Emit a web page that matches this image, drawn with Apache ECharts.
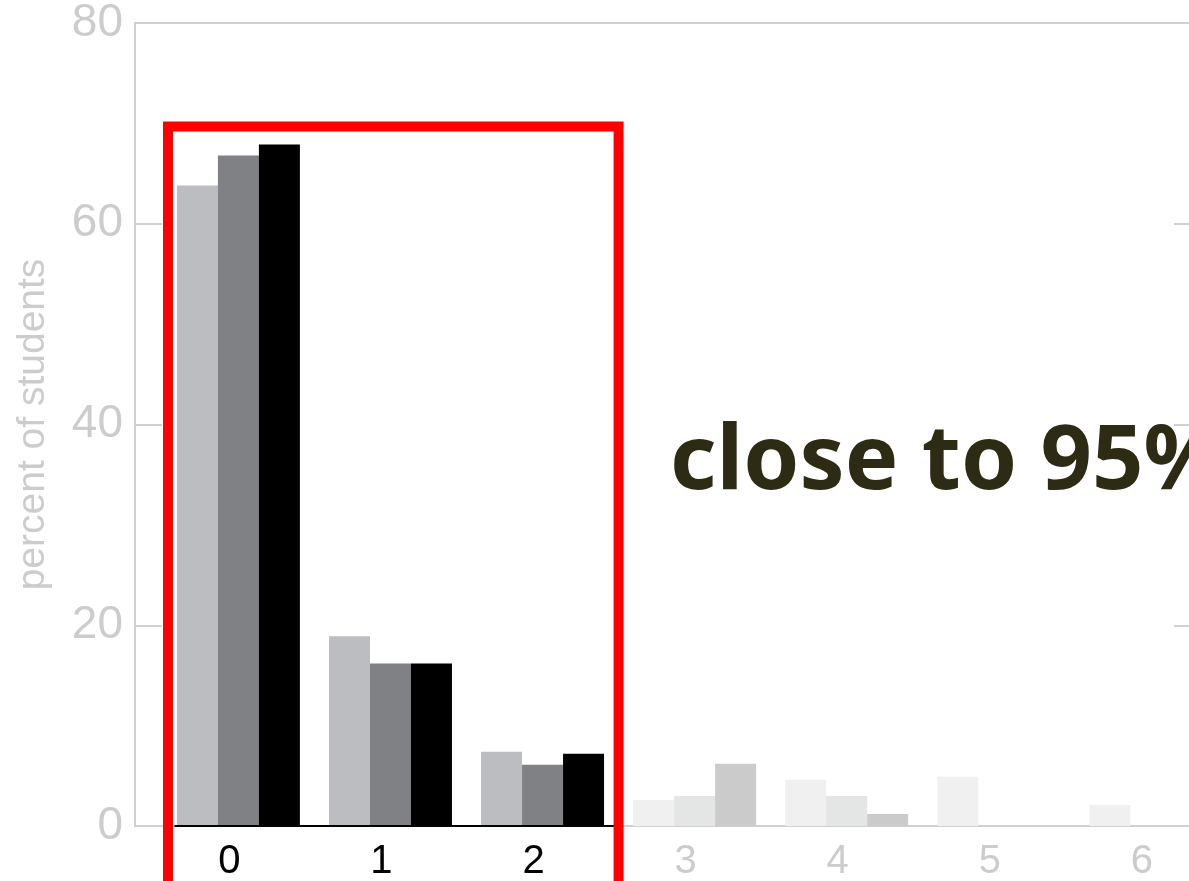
<!DOCTYPE html>
<html>
<head>
<meta charset="utf-8">
<title>percent of students</title>
<script src="https://cdn.jsdelivr.net/npm/echarts@6/dist/echarts.min.js"></script>
<style>
  html, body { margin: 0; padding: 0; background: #fff; }
  #chart { width: 1189px; height: 881px; }
</style>
</head>
<body>
<div id="chart"></div>
<script>
// categories on the x axis
var categories = [0, 1, 2, 3, 4, 5, 6];
// three groups of students, percent for each category
var groupA = [63.8, 18.9, 7.4, 2.6, 4.6, 4.9, 2.1];
var groupB = [66.8, 16.2, 6.1, 3.0, 3.0, 0, 0];
var groupC = [67.9, 16.2, 7.2, 6.2, 1.2, 0, 0];
var yTicks = [0, 20, 40, 60, 80];
var highlightUpTo = 2; // categories 0..2 are the highlighted ones

var strong = ['#bcbdc1', '#808185', '#000000'];
var faded = ['#f0f0f0', '#e4e5e5', '#cbcbcb'];

var myChart = echarts.init(document.getElementById('chart'));

function makeSeries(values, idx) {
	return {
		type: 'bar',
		barWidth: 41,
		barGap: '0%',
		data: values.map(function (v, i) { return [categories[i], v]; }),
		itemStyle: {
			color: function (p) {
				return categories[p.dataIndex] <= highlightUpTo ? strong[idx] : faded[idx];
			}
		},
		emphasis: { disabled: true },
		z: 2
	};
}

var series = [makeSeries(groupA, 0), makeSeries(groupB, 1), makeSeries(groupC, 2)];
// black baseline under the highlighted categories (middle series has no bar offset)
series[1].markLine = {
	silent: true,
	symbol: ['none', 'none'],
	label: { show: false },
	lineStyle: { color: '#000', width: 2, type: 'solid' },
	data: [[{ coord: [-0.42, 0] }, { coord: [2.5, 0] }]]
};

var axisGray = '#d0d0d0';
var labelGray = '#cccccc';

var option = {
	animation: false,
	backgroundColor: '#fff',
	grid: {
		left: 135,
		width: 1066,
		top: 23,
		bottom: 55,
		outerBoundsMode: 'none',
		containLabel: false,
		show: true,
		borderColor: axisGray,
		borderWidth: 2
	},
	xAxis: {
		type: 'value',
		min: -0.68,
		max: 6.33,
		splitLine: { show: false },
		axisLine: { show: true, onZero: false, lineStyle: { color: axisGray, width: 2 } },
		axisTick: { show: false },
		axisLabel: {
			customValues: categories,
			fontFamily: 'Liberation Sans',
			fontSize: 40,
			margin: 16,
			padding: [0, 18, 0, 0],
			color: function (v) {
				return v <= highlightUpTo ? '#000000' : labelGray;
			}
		}
	},
	yAxis: [
		{
			type: 'value',
			min: 0,
			max: 80,
			interval: 20,
			name: 'percent of students',
			nameLocation: 'middle',
			nameGap: 82,
			nameTextStyle: { color: labelGray, fontFamily: 'Liberation Sans', fontSize: 39 },
			splitLine: { show: false },
			axisLine: { show: true, onZero: false, lineStyle: { color: axisGray, width: 2 } },
			axisTick: { show: true, inside: true, length: 27, lineStyle: { color: axisGray, width: 2 } },
			axisLabel: { color: labelGray, fontFamily: 'Liberation Sans', fontSize: 46, margin: 12 }
		},
		{
			type: 'value',
			min: 0,
			max: 80,
			interval: 20,
			position: 'right',
			splitLine: { show: false },
			axisLine: { show: true, onZero: false, lineStyle: { color: axisGray, width: 2 } },
			axisTick: { show: true, inside: true, length: 27, lineStyle: { color: axisGray, width: 2 } },
			axisLabel: { show: false }
		}
	],
	series: series
};

myChart.setOption(option);

// red box round the first three categories and the note next to it
var boxTL = myChart.convertToPixel({ gridIndex: 0 }, [-0.463, 69.7]);
var boxBR = myChart.convertToPixel({ gridIndex: 0 }, [2.5, -8]);
myChart.setOption({
	graphic: [
		{
			type: 'rect',
			silent: true,
			z: 100,
			shape: { x: boxTL[0], y: boxTL[1], width: boxBR[0] - boxTL[0], height: boxBR[1] - boxTL[1] },
			style: { fill: null, stroke: '#ff0000', lineWidth: 10 }
		},
		{
			type: 'text',
			silent: true,
			z: 100,
			x: 670,
			y: 463,
			style: {
				text: 'close to 95%',
				fill: '#2e2b15',
				font: 'bold 90px "Noto Sans"',
				verticalAlign: 'middle',
				align: 'left'
			}
		}
	]
});

window.onresize = function () {
	myChart.resize();
};
</script>
</body>
</html>
